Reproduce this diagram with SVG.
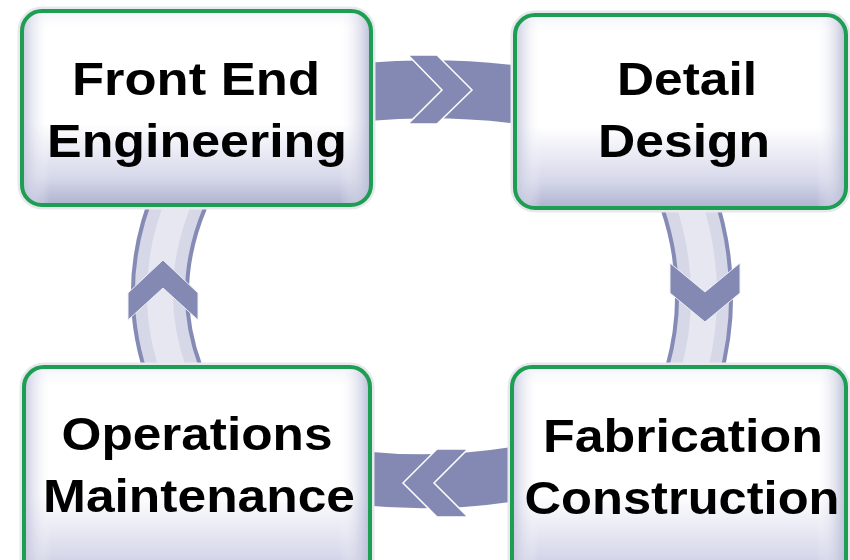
<svg xmlns="http://www.w3.org/2000/svg" width="850" height="560" viewBox="0 0 850 560">
<defs>
<linearGradient id="vshade" x1="0" y1="0" x2="0" y2="1">
<stop offset="0" stop-color="#f4f5fa"/>
<stop offset="0.08" stop-color="#ffffff"/>
<stop offset="0.58" stop-color="#ffffff"/>
<stop offset="0.86" stop-color="#d6d8ea"/>
<stop offset="1" stop-color="#aeb2cf"/>
</linearGradient>
<linearGradient id="hshade" x1="0" y1="0" x2="1" y2="0">
<stop offset="0" stop-color="#bfc2db" stop-opacity="0.9"/>
<stop offset="0.08" stop-color="#ffffff" stop-opacity="0"/>
<stop offset="0.91" stop-color="#ffffff" stop-opacity="0"/>
<stop offset="1" stop-color="#b4b8d4" stop-opacity="0.95"/>
</linearGradient>
<style>
.band{fill:none;stroke:#8389b3;}
.vout{fill:none;stroke:#858bb4;stroke-width:58;}
.vin{fill:none;stroke:#d6d8e8;stroke-width:50;}
.vmid{fill:none;stroke:#e6e7f1;stroke-width:26;}
.chev{fill:#8389b3;stroke:#ffffff;stroke-width:1.5;stroke-linejoin:miter;}
.chevv{fill:#8389b3;stroke:#eef0f6;stroke-width:1;}
.halo{fill:none;stroke:#e6e8ee;stroke-width:9;}
.base{fill:url(#vshade);}
.side{fill:url(#hshade);}
.edge{fill:none;stroke:#1e9e52;stroke-width:4;}
.lbl{font-family:"Liberation Sans",Arial,sans-serif;font-weight:bold;font-size:47px;fill:#000000;text-anchor:middle;}
</style>
</defs>
<rect width="850" height="560" fill="#ffffff"/>
<g id="connectors">
<path class="band" stroke-width="58" d="M366 92 Q443 85.5 520 95"/>
<polygon class="chev" points="408,55 437,55 472,90 437,124 408,124 442,90"/>
<path class="vout" d="M688 200 Q717.5 288 693 375"/>
<path class="vin" d="M688 200 Q717.5 288 693 375"/>
<path class="vmid" d="M688 200 Q717.5 288 693 375"/>
<polygon class="chevv" points="670,263 705,292 740,263 740,293 705,322 670,293"/>
<path class="band" stroke-width="54" d="M366 478.5 Q441 486 517 473.5"/>
<polygon class="chev" points="403,483 437,449 468,449 434,483 468,517 437,517"/>
<path class="vout" d="M180 198 Q142.5 288 175 375"/>
<path class="vin" d="M180 198 Q142.5 288 175 375"/>
<path class="vmid" d="M180 198 Q142.5 288 175 375"/>
<polygon class="chevv" points="163,260 198,293 198,320 163,288 128,320 128,293"/>
</g>
<g id="node-front-end">
<rect class="halo" x="22" y="11" width="349" height="194" rx="20"/>
<rect class="base" x="22" y="11" width="349" height="194" rx="20"/>
<rect class="side" x="22" y="11" width="349" height="194" rx="20"/>
<rect class="edge" x="22" y="11" width="349" height="194" rx="20"/>
<text class="lbl" x="196" y="95" textLength="248" lengthAdjust="spacingAndGlyphs">Front End</text>
<text class="lbl" x="197" y="157" textLength="300" lengthAdjust="spacingAndGlyphs">Engineering</text>
</g>
<g id="node-detail-design">
<rect class="halo" x="515" y="15" width="331" height="193" rx="20"/>
<rect class="base" x="515" y="15" width="331" height="193" rx="20"/>
<rect class="side" x="515" y="15" width="331" height="193" rx="20"/>
<rect class="edge" x="515" y="15" width="331" height="193" rx="20"/>
<text class="lbl" x="687" y="95" textLength="140" lengthAdjust="spacingAndGlyphs">Detail</text>
<text class="lbl" x="684" y="157" textLength="172" lengthAdjust="spacingAndGlyphs">Design</text>
</g>
<g id="node-operations">
<rect class="halo" x="24" y="367" width="346" height="220" rx="20"/>
<rect class="base" x="24" y="367" width="346" height="220" rx="20"/>
<rect class="side" x="24" y="367" width="346" height="220" rx="20"/>
<rect class="edge" x="24" y="367" width="346" height="220" rx="20"/>
<text class="lbl" x="197" y="450" textLength="271" lengthAdjust="spacingAndGlyphs">Operations</text>
<text class="lbl" x="199" y="512" textLength="312" lengthAdjust="spacingAndGlyphs">Maintenance</text>
</g>
<g id="node-fabrication">
<rect class="halo" x="512" y="367" width="334" height="220" rx="20"/>
<rect class="base" x="512" y="367" width="334" height="220" rx="20"/>
<rect class="side" x="512" y="367" width="334" height="220" rx="20"/>
<rect class="edge" x="512" y="367" width="334" height="220" rx="20"/>
<text class="lbl" x="683" y="452" textLength="280" lengthAdjust="spacingAndGlyphs">Fabrication</text>
<text class="lbl" x="682" y="514" textLength="315" lengthAdjust="spacingAndGlyphs">Construction</text>
</g>
</svg>
